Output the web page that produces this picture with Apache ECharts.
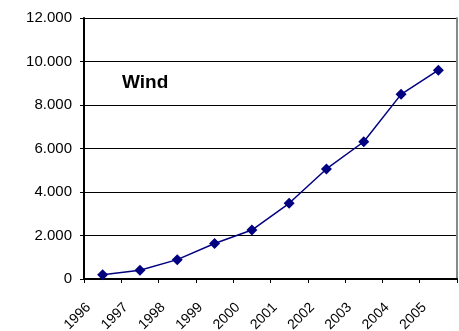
<!DOCTYPE html>
<html>
<head>
<meta charset="utf-8">
<script src="https://cdn.jsdelivr.net/npm/echarts@6/dist/echarts.min.js"></script>
<style>
  html, body { margin: 0; padding: 0; background: #fff; }
  #chart { width: 459px; height: 331px; }
</style>
</head>
<body>
<div id="chart"></div>
<script>
// Installed wind capacity per year
const years = ['1996', '1997', '1998', '1999', '2000', '2001', '2002', '2003', '2004', '2005'];
const windValues = [200, 400, 890, 1630, 2250, 3480, 5060, 6310, 8490, 9600];
const seriesTitle = 'Wind';

const fontFamily = '"Liberation Sans", Arial, sans-serif';

// Thousands shown with a dot, e.g. 12.000
function formatThousands(v) {
  return String(v).replace(/\B(?=(\d{3})+(?!\d))/g, '.');
}

const chart = echarts.init(document.getElementById('chart'), null, { renderer: 'canvas' });
chart.setOption({
  animation: false,
  backgroundColor: '#ffffff',
  grid: { left: 84, right: 2, top: 18, bottom: 52, containLabel: false, outerBoundsMode: 'none' },
  graphic: [{
    type: 'text',
    left: 122,
    top: 73,
    style: { text: seriesTitle, font: 'bold 19px ' + fontFamily, fill: '#000' }
  }],
  xAxis: {
    type: 'category',
    data: years,
    boundaryGap: true,
    axisLine: { show: true, lineStyle: { color: '#000', width: 2 } },
    axisTick: { show: true, length: 4, lineStyle: { color: '#000', width: 1 } },
    axisLabel: {
      rotate: 45,
      margin: 12,
      padding: [0, 20, 0, 0],
      fontFamily: fontFamily,
      fontSize: 14,
      color: '#000',
      interval: 0
    },
    splitLine: { show: false }
  },
  yAxis: [{
    type: 'value',
    min: 0,
    max: 12000,
    interval: 2000,
    axisLine: { show: true, lineStyle: { color: '#000', width: 2 } },
    axisTick: { show: true, length: 4, lineStyle: { color: '#000' } },
    axisLabel: {
      margin: 12,
      fontFamily: fontFamily,
      fontSize: 15,
      color: '#000',
      formatter: formatThousands
    },
    splitLine: { show: true, lineStyle: { color: '#000', width: 1 } }
  }, {
    type: 'value',
    position: 'right',
    min: 0,
    max: 12000,
    interval: 2000,
    axisLine: { show: true, lineStyle: { color: '#888', width: 2 } },
    axisTick: { show: false },
    axisLabel: { show: false },
    splitLine: { show: false }
  }],
  series: [{
    type: 'line',
    name: seriesTitle,
    data: windValues,
    yAxisIndex: 0,
    symbol: 'diamond',
    symbolSize: 11,
    lineStyle: { color: '#000080', width: 1.5 },
    itemStyle: { color: '#000080' }
  }]
});
</script>
</body>
</html>
